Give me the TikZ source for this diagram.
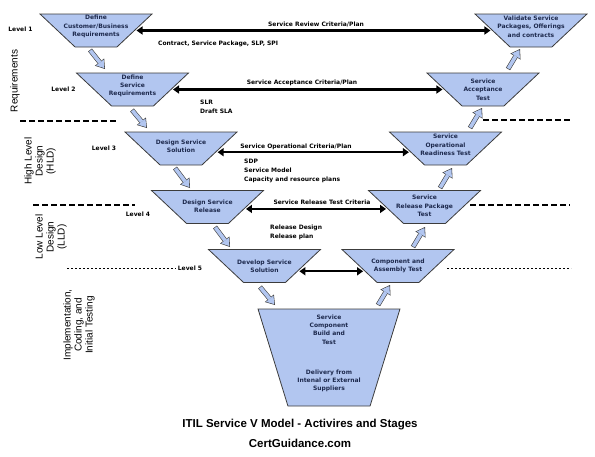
\documentclass[tikz,border=0pt]{standalone}
\usepackage{fontspec}
\setmainfont{Liberation Sans}
\newfontfamily\verdana{DejaVu Sans}
\usetikzlibrary{shapes.geometric,arrows.meta,calc}

\definecolor{stagefill}{RGB}{178,198,240}
\definecolor{stageline}{RGB}{60,60,60}
\definecolor{stagetext}{RGB}{30,42,78}

\begin{document}
\begin{tikzpicture}[x=1pt,y=-1pt,
   stage/.style={trapezium, trapezium stretches=true, shape border rotate=180,
      trapezium angle=50, minimum width=112pt, minimum height=33pt, inner sep=2pt,
      draw=stageline, fill=stagefill, line width=0.8pt},
   stagelabel/.style={font=\verdana\fontsize{6}{8.3}\selectfont\bfseries, text=stagetext, align=center, inner sep=0pt},
   note/.style={font=\verdana\fontsize{6}{9}\selectfont\bfseries, inner sep=0pt, align=left},
   lvl/.style={font=\verdana\fontsize{6}{8}\selectfont\bfseries, inner sep=0pt},
   crit/.style={line width=2.4pt, {Triangle[length=6pt,width=8pt]}-{Triangle[length=6pt,width=8pt]},
      shorten <=1.5pt, shorten >=1.5pt},
   flow/.style={draw=stagefill, line width=3.6pt, shorten <=0.6pt, shorten >=1.1pt,
      -{Triangle[length=7.1pt,width=9.6pt,line width=0pt]},
      preaction={draw=stageline, line width=4.8pt, shorten <=0pt, shorten >=0pt,
         -{Triangle[length=8.8pt,width=11.8pt,line width=0pt]}}},
   side/.style={font=\fontsize{10}{11}\selectfont, rotate=90, align=center, inner sep=0pt},
   divide/.style={line width=1.1pt, dash pattern=on 6pt off 3pt},
   dotline/.style={line width=0.8pt, dash pattern=on 2pt off 2pt}]
   \useasboundingbox (0,0) rectangle (595,456);

   % left arm of the V
   \node[stage, label={[stagelabel, yshift=4pt]center:Define\\Customer/Business\\Requirements}] (cbr) at (96,30.5) {};
   \node[stage, label={[stagelabel, yshift=3.5pt]center:Define\\Service\\Requirements}] (sreq) at (132.5,89.5) {};
   \node[stage, label={[stagelabel, yshift=2.5pt]center:Design Service\\Solution}] (dss) at (181,148.5) {};
   \node[stage, label={[stagelabel, yshift=1pt]center:Design Service\\Release}] (dsr) at (207.5,207) {};
   \node[stage, label={[stagelabel]center:Develop Service\\Solution}] (dev) at (264.5,266) {};

   % bottom
   \node[stage, trapezium angle=70, minimum width=142pt, minimum height=97pt,
      label={[stagelabel, yshift=28pt]center:Service\\Component\\Build and\\Test},
      label={[stagelabel, yshift=-23.5pt]center:Delivery from\\Intenal or External\\Suppliers}] (build) at (329,357.5) {};

   % right arm of the V
   \node[stage, label={[stagelabel]center:Component and\\Assembly Test}] (cat) at (398,266) {};
   \node[stage, label={[stagelabel, yshift=1pt]center:Service\\Release Package\\Test}] (srpt) at (424.5,207) {};
   \node[stage, label={[stagelabel, yshift=3.5pt]center:Service\\Operational\\Readiness Test}] (sort) at (445.5,148.5) {};
   \node[stage, label={[stagelabel]center:Service\\Acceptance\\Test}] (sat) at (483,89.5) {};
   \node[stage, label={[stagelabel, yshift=4pt]center:Validate Service\\Packages, Offerings\\and contracts}] (val) at (531,30.5) {};

   % criteria between the arms
   \draw[crit] (cbr) -- (val);
   \draw[crit] (sreq) -- (sat);
   \draw[crit] (dss.-6) -- (sort.186);
   \draw[crit] (dsr.-3) -- (srpt.183);
   \draw[crit] (dev.-9) -- (cat.189);

   \node[note] (rev) at (316,24) {Service Review Criteria/Plan};
   \node[note, anchor=west] (con) at (158,44) {Contract, Service Package, SLP, SPI};
   \node[note] (acc) at (302,83) {Service Acceptance Criteria/Plan};
   \node[note, anchor=north west] (slr) at (200,100) {SLR\\Draft SLA};
   \node[note] (ops) at (296,147) {Service Operational Criteria/Plan};
   \node[note, anchor=north west] (sdp) at (244,159) {SDP\\Service Model\\Capacity and resource plans};
   \node[note] (rtc) at (322,202) {Service Release Test Criteria};
   \node[note, anchor=north west] (rel) at (270,225) {Release Design\\Release plan};

   % down the left, up the right
   \draw[flow] ($(cbr.center)+(-6,19.5)$) -- ($(sreq.center)+(-27.5,-20.5)$);
   \draw[flow] ($(sreq.center)+(-0.5,20.5)$) -- ($(dss.center)+(-34,-20.5)$);
   \draw[flow] ($(dss.center)+(-6,19.5)$) -- ($(dsr.center)+(-17.5,-19)$);
   \draw[flow] ($(dsr.center)+(7.5,20)$) -- ($(dev.center)+(-34.5,-19)$);
   \draw[flow] ($(dev.center)+(-4.5,21)$) -- ($(build.center)+(-54,-52.5)$);
   \draw[flow] ($(build.center)+(49,-52.5)$) -- ($(cat.center)+(-8,19)$);
   \draw[flow] ($(cat.center)+(15,-19)$) -- ($(srpt.center)+(0.5,20)$);
   \draw[flow] ($(srpt.center)+(15.5,-19)$) -- ($(sort.center)+(6.5,19.5)$);
   \draw[flow] ($(sort.center)+(24.5,-20.5)$) -- ($(sat.center)+(-1,18.5)$);
   \draw[flow] ($(sat.center)+(25,-20.5)$) -- ($(val.center)+(-11,18.5)$);

   % levels and phases
   \node[lvl] (l1) at (20.5,29) {Level 1};
   \node[lvl] (l2) at (63.5,89) {Level 2};
   \node[lvl] (l3) at (104,148) {Level 3};
   \node[lvl] (l4) at (138,214) {Level 4};
   \node[lvl] (l5) at (190,268) {Level 5};

   \draw[divide] (20,121) -- (118,121);
   \draw[divide] (483,120) -- (571,120);
   \draw[divide] (33,205) -- (135,205);
   \draw[divide] (470,205) -- (570,205);
   \draw[dotline] (67,268) -- (176,268);
   \draw[dotline] (447,268) -- (571,268);

   \node[side] (req) at (15,81) {Requirements};
   \node[side] (hld) at (40,161) {High Level\\Design\\(HLD)};
   \node[side] (lld) at (51,237) {Low Level\\Design\\(LLD)};
   \node[side] (imp) at (79,325) {Implementation,\\Coding, and\\Initial Testing};

   \node[font=\bfseries\fontsize{11.5}{13}\selectfont] (title) at (300,425) {ITIL Service V Model - Activires and Stages};
   \node[font=\bfseries\fontsize{11.5}{13}\selectfont] (site) at (300,443) {CertGuidance.com};
\end{tikzpicture}
\end{document}
